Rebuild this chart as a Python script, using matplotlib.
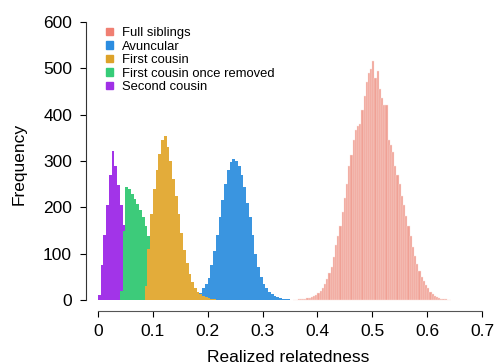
import numpy as np
import matplotlib
matplotlib.use("Agg")
import matplotlib.pyplot as plt
from matplotlib.patches import Patch

plt.rcParams['font.family'] = ['Liberation Sans', 'DejaVu Sans']

labels = ["Full siblings", "Avuncular", "First cousin",
          "First cousin once removed", "Second cousin"]
legend_colors = ["#F07F72", "#2B8CE0", "#DDA22A", "#36CC78", "#A030E6"]

# histogram counts (bin start, bin width, counts)
full_sib_start, full_sib_bw = 0.356, 0.004
full_sib = [1, 1, 2, 2, 3, 3, 4, 5, 6, 8, 11, 15, 20, 27, 35, 46, 58, 72, 92, 118,
            138, 160, 190, 220, 250, 290, 312, 345, 368, 375, 380, 410, 440, 470,
            490, 498, 515, 480, 495, 455, 435, 420, 420, 345, 335, 320, 290, 270,
            250, 225, 205, 182, 160, 138, 115, 95, 78, 62, 50, 40, 32, 25, 18, 13,
            9, 6, 4, 3, 2, 2, 1, 1]

avunc_start, avunc_bw = 0.18, 0.005
avuncular = [5, 15, 25, 35, 48, 75, 105, 140, 180, 215, 250, 280, 298, 305, 300,
             290, 270, 245, 210, 180, 140, 100, 72, 50, 35, 25, 18, 13, 9, 6, 4,
             3, 2, 2, 1, 1]

fc_start, fc_bw = 0.085, 0.005
first_cousin = [30, 110, 185, 240, 280, 315, 345, 355, 330, 300, 262, 225, 185,
                145, 108, 80, 56, 38, 26, 18, 13, 9, 6, 4, 3, 2, 1, 1]

fcor_start, fcor_bw = 0.04, 0.005
fcor = [20, 150, 245, 240, 228, 218, 208, 195, 180, 160, 138, 115, 92, 72, 55,
        40, 28, 19, 12, 8, 5, 3, 2]

sc_start, sc_bw = 0.0, 0.005
second_cousin = [10, 75, 140, 205, 270, 322, 290, 248, 205, 162, 120, 80, 50, 28,
                 14, 6, 2]

fig = plt.figure(figsize=(4.95, 3.64), dpi=100)
ax = fig.add_axes([86 / 495, 53 / 364, 404 / 495, (311 - 17.4) / 364])


def edges(start, bw, counts):
    return start + bw * np.arange(len(counts) + 1)


e = edges(full_sib_start, full_sib_bw, full_sib)
ax.bar(e[:-1], full_sib, width=full_sib_bw, align='edge', color="#F0A195",
       edgecolor="#FBE3DE", linewidth=0.3, zorder=1)
ax.stairs(avuncular, edges(avunc_start, avunc_bw, avuncular), fill=True,
          color="#3A95E0", zorder=2)
ax.stairs(second_cousin, edges(sc_start, sc_bw, second_cousin), fill=True,
          color="#A234E8", zorder=3)
ax.stairs(fcor, edges(fcor_start, fcor_bw, fcor), fill=True,
          color="#3DCB7A", zorder=4)
ax.stairs(first_cousin, edges(fc_start, fc_bw, first_cousin), fill=True,
          color="#E3AC3A", zorder=5)

ax.set_xlim(-0.0219, 0.7146)
ax.set_ylim(-23.7, 610)
for s in ["top", "right"]:
    ax.spines[s].set_visible(False)
ax.spines["left"].set_bounds(0, 600)
ax.spines["bottom"].set_bounds(0, 0.7)
ax.spines["left"].set_color("#333333")
ax.spines["bottom"].set_color("#555555")
ax.set_xticks(np.arange(0, 0.71, 0.1))
ax.set_xticklabels(["0", "0.1", "0.2", "0.3", "0.4", "0.5", "0.6", "0.7"])
ax.set_yticks(np.arange(0, 601, 100))
ax.tick_params(direction="out", length=4, width=0.8, labelsize=12.5)
ax.tick_params(axis="x", pad=5)
ax.tick_params(axis="y", pad=6)
ax.set_xlabel("Realized relatedness", fontsize=12.5, labelpad=8)
ax.set_ylabel("Frequency", fontsize=12.5, labelpad=12)

handles = [Patch(color=c) for c in legend_colors]
ax.legend(handles, labels, loc="upper left", bbox_to_anchor=(106 / 495, 1 - 27 / 364),
          bbox_transform=fig.transFigure, frameon=False, fontsize=9.4,
          handlelength=0.5, handleheight=0.5, handletextpad=0.75,
          labelspacing=0.12, borderpad=0, borderaxespad=0)

fig.savefig("out.png", dpi=100)
